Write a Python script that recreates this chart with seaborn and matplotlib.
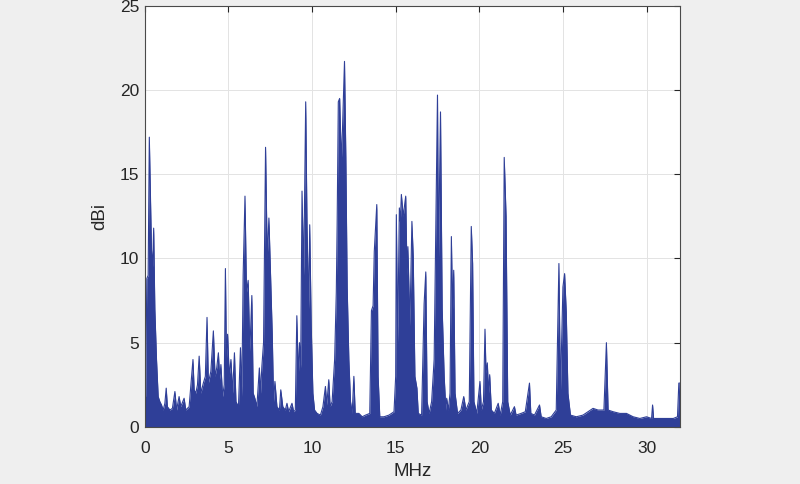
import numpy as np
import pandas as pd
import seaborn as sns
import matplotlib.pyplot as plt

# ----------------------------
# Data: spectrum envelope (MHz, dBi)
# ----------------------------
freq_mhz = [
    0.00, 0.05, 0.12, 0.20, 0.27, 0.33, 0.40, 0.47, 0.53, 0.60, 0.70, 0.80, 0.90,
    1.00, 1.10, 1.20, 1.28, 1.35, 1.50, 1.65, 1.80, 1.90, 2.05, 2.15, 2.35, 2.45,
    2.65, 2.80, 2.88, 2.95, 3.05, 3.15, 3.25, 3.35, 3.50, 3.62, 3.72, 3.80, 3.95,
    4.10, 4.20, 4.30, 4.40, 4.48, 4.55, 4.65, 4.75, 4.82, 4.88, 4.95, 5.05, 5.15,
    5.25, 5.36, 5.45, 5.60, 5.72, 5.80, 5.88, 5.99, 6.08, 6.18, 6.28, 6.40, 6.48,
    6.58, 6.70, 6.85, 6.92, 7.00, 7.10, 7.22, 7.32, 7.42, 7.52, 7.62, 7.70, 7.78,
    7.90, 8.05, 8.13, 8.25, 8.40, 8.50, 8.60, 8.80, 8.90, 9.00, 9.09, 9.18, 9.25,
    9.32, 9.40, 9.50, 9.62, 9.70, 9.80, 9.86, 9.95, 10.05, 10.15, 10.30, 10.50,
    10.65, 10.80, 10.88, 11.00, 11.08, 11.20, 11.35, 11.45, 11.50, 11.57, 11.65,
    11.75, 11.82, 11.94, 12.02, 12.10, 12.20, 12.30, 12.40, 12.50, 12.58, 12.80,
    13.00, 13.20, 13.45, 13.55, 13.65, 13.72, 13.87, 13.95, 14.05, 14.30, 14.60,
    14.90, 15.00, 15.04, 15.12, 15.22, 15.28, 15.34, 15.45, 15.60, 15.68, 15.73,
    15.85, 15.97, 16.05, 16.15, 16.27, 16.35, 16.55, 16.70, 16.80, 16.88, 17.00,
    17.15, 17.30, 17.42, 17.50, 17.56, 17.68, 17.78, 17.90, 18.00, 18.05, 18.15,
    18.25, 18.33, 18.40, 18.47, 18.55, 18.70, 18.90, 19.07, 19.20, 19.40, 19.52,
    19.60, 19.68, 19.85, 20.04, 20.12, 20.25, 20.34, 20.40, 20.48, 20.55, 20.62,
    20.72, 20.90, 21.13, 21.25, 21.40, 21.49, 21.60, 21.70, 21.85, 22.10, 22.20,
    22.50, 22.75, 23.00, 23.08, 23.30, 23.60, 23.70, 24.00, 24.30, 24.60, 24.76,
    24.85, 25.00, 25.10, 25.20, 25.30, 25.45, 25.80, 26.20, 26.50, 26.80, 27.10,
    27.45, 27.60, 27.70, 28.00, 28.40, 28.80, 29.20, 29.60, 30.00, 30.30, 30.36,
    30.42, 30.80, 31.20, 31.60, 31.85, 31.93, 32.00,
]
gain_dbi = [
    2.0, 1.8, 8.8, 9.0, 17.2, 14.0, 10.5, 9.5, 11.8, 7.0, 4.0, 1.8, 1.5,
    1.3, 1.0, 1.4, 2.3, 1.2, 1.0, 1.1, 2.1, 1.0, 1.8, 1.2, 1.7, 1.0,
    1.2, 3.0, 4.0, 2.2, 2.0, 2.5, 4.2, 2.0, 2.6, 3.0, 6.5, 2.6, 3.3,
    5.7, 3.0, 3.5, 4.4, 2.8, 3.7, 1.8, 2.5, 9.4, 4.0, 5.5, 3.0, 4.0,
    2.0, 4.4, 1.5, 1.2, 4.7, 1.8, 9.0, 13.7, 8.0, 8.7, 4.5, 7.8, 2.0,
    1.7, 1.2, 3.5, 2.0, 3.6, 5.0, 16.6, 10.0, 12.4, 9.0, 5.5, 1.5, 2.7,
    1.2, 1.0, 2.2, 1.2, 1.0, 1.4, 0.9, 1.4, 0.9, 1.0, 6.6, 3.0, 5.0,
    3.5, 14.0, 9.0, 19.3, 11.8, 7.0, 12.0, 6.0, 2.0, 1.0, 0.8, 0.7,
    1.2, 2.4, 1.3, 2.8, 1.2, 1.5, 4.0, 8.0, 12.0, 19.3, 19.5,
    15.7, 17.7, 21.7, 16.0, 8.3, 4.0, 1.5, 0.8, 3.0, 0.8, 0.8,
    0.6, 0.7, 0.8, 6.9, 7.2, 10.4, 13.2, 3.0, 0.6, 0.6, 0.7,
    0.9, 3.0, 12.6, 5.0, 13.0, 12.2, 13.8, 12.5, 13.7, 9.0, 10.7,
    6.0, 12.2, 10.1, 3.0, 2.3, 0.8, 0.7, 7.3, 9.2, 1.5, 0.8,
    1.5, 4.0, 13.6, 19.7, 10.0, 18.7, 7.0, 3.0, 1.0, 1.7, 1.0,
    2.0, 11.3, 7.0, 9.3, 2.0, 0.8, 1.0, 1.8, 1.0, 1.5, 11.9,
    9.7, 1.5, 0.8, 2.7, 1.0, 1.5, 5.8, 3.2, 3.8, 2.0, 3.1,
    1.0, 0.8, 1.4, 0.7, 1.5, 16.0, 12.5, 1.5, 0.7, 1.2, 0.7,
    0.8, 0.9, 2.6, 0.8, 0.7, 1.3, 0.6, 0.5, 0.6, 1.0, 9.7,
    2.0, 8.3, 9.1, 6.8, 2.0, 0.7, 0.6, 0.7, 0.9, 1.1, 1.0,
    1.0, 5.0, 1.0, 0.9, 0.8, 0.8, 0.6, 0.5, 0.6, 0.5, 1.3,
    0.5, 0.5, 0.5, 0.5, 0.6, 2.6, 2.6,
]

x_ticks = [0, 5, 10, 15, 20, 25, 30]
y_ticks = [0, 5, 10, 15, 20, 25]

LINE_COLOR = "#2f3f98"
TEXT_COLOR = "#262626"
df = pd.DataFrame({"MHz": freq_mhz, "dBi": gain_dbi})

# ----------------------------
# Style (MATLAB-like figure)
# ----------------------------
sns.set_theme(style="whitegrid")
plt.rcParams["font.family"] = ["Liberation Sans", "DejaVu Sans"]

fig = plt.figure(figsize=(8, 4.84), dpi=100, facecolor="#efefef")
ax = fig.add_axes([0.181, 0.118, 0.669, 0.870])
ax.set_facecolor("white")

ax.fill_between(df["MHz"], 0, df["dBi"], color=LINE_COLOR, linewidth=0)
sns.lineplot(data=df, x="MHz", y="dBi", ax=ax, color=LINE_COLOR,
             linewidth=0.8, estimator=None, sort=False)

ax.set_xlim(0, 32)
ax.set_ylim(0, 25)
ax.set_xticks(x_ticks)
ax.set_yticks(y_ticks)
ax.grid(True, color="#e3e3e3", linewidth=0.7)
ax.tick_params(direction="in", length=4, width=0.8, colors=TEXT_COLOR,
               labelsize=12.5, top=True, right=True, labeltop=False, labelright=False)
ax.tick_params(axis="x", pad=10)
ax.tick_params(axis="y", pad=4)
for s in ax.spines.values():
    s.set_color("#4a4a4a")
    s.set_linewidth(0.8)

ax.set_xlabel("MHz", fontsize=13.5, color=TEXT_COLOR, labelpad=5)
ax.set_ylabel("dBi", fontsize=13.5, color=TEXT_COLOR, labelpad=8)

fig.savefig("out.png", dpi=100, facecolor=fig.get_facecolor())
